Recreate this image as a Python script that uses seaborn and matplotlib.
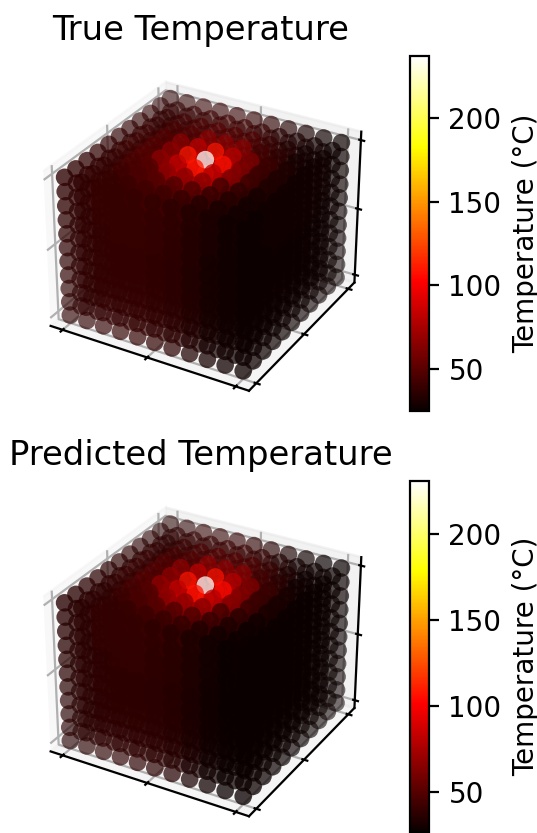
import numpy as np
import pandas as pd
import seaborn as sns
import matplotlib
matplotlib.use("Agg")
import matplotlib.pyplot as plt
from matplotlib.cm import ScalarMappable
from matplotlib.colors import Normalize

W, H, DPI = 537, 833, 200

grid_index = list(range(11))
# background temperature read per x-layer
base_by_x = [36, 37, 38, 38, 38, 37, 35, 32, 29, 27, 26]
# excess temperature read per half-cell of distance from the top-centre heat source
excess_true = [200, 0, 72, 45, 30, 18, 11, 7, 4, 2, 1, 1, 1, 0, 0, 0, 0, 0, 0, 0, 0, 0, 0, 0, 0, 0, 0, 0, 0, 0]
excess_pred = [193, 0, 70, 45, 31, 19, 12, 8, 4, 2, 1, 1, 1, 0, 0, 0, 0, 0, 0, 0, 0, 0, 0, 0, 0, 0, 0, 0, 0, 0]
source_cell = (5, 5, 10)
titles = ["True Temperature", "Predicted Temperature"]
ranges = [(25, 237), (27, 231)]
cbar_ticks = [50, 100, 150, 200]
axis_ticks = [0, 5, 10]


def build(excess):
    rows = []
    for i in grid_index:
        for j in grid_index:
            for k in grid_index:
                r = np.sqrt((i - source_cell[0]) ** 2 + (j - source_cell[1]) ** 2 + (k - source_cell[2]) ** 2)
                rows.append((i, j, k, base_by_x[i] + excess[int(round(r * 2))]))
    return pd.DataFrame(rows, columns=["x", "y", "z", "T"])


hot = sns.color_palette("hot", as_cmap=True)
fig = plt.figure(figsize=(W / DPI, H / DPI), dpi=DPI)


def rect(x0, y0, x1, y1):
    return [x0 / W, 1 - y1 / H, (x1 - x0) / W, (y1 - y0) / H]


boxes = [(22.5, 56, 378.5, 412), (22.5, 481.5, 378.5, 837.5)]
cboxes = [(410, 56, 429, 411), (410, 481, 429, 832)]
for title, excess, rng, box, cbox in zip(titles, [excess_true, excess_pred], ranges, boxes, cboxes):
    df = build(excess)
    ax = fig.add_axes(rect(*box), projection="3d")
    ax.set_box_aspect((4, 4, 3.1))
    norm = Normalize(*rng)
    # fade with distance from the viewer (elev 30, azim -60), opaque in front, pale at the back
    toward_viewer = 0.433 * df["x"] - 0.75 * df["y"] + 0.5 * df["z"]
    depth = (toward_viewer.max() - toward_viewer) / (toward_viewer.max() - toward_viewer.min())
    rgba = hot(norm(df["T"].to_numpy()))
    rgba[:, 3] = 0.92 - 0.52 * depth
    ax.scatter(df["x"], df["y"], df["z"], c=rgba, s=40, linewidths=0, depthshade=False)
    ax.set_zlim(-0.6, 10.6)
    ax.set_xticks(axis_ticks)
    ax.set_yticks(axis_ticks)
    ax.set_zticks(axis_ticks)
    ax.set_xticklabels([])
    ax.set_yticklabels([])
    ax.set_zticklabels([])
    ax.set_title(title, fontsize=12.2, y=1.086)
    cax = fig.add_axes(rect(*cbox))
    cb = fig.colorbar(ScalarMappable(norm=norm, cmap=hot), cax=cax)
    cb.set_ticks(cbar_ticks)
    cb.ax.tick_params(labelsize=10)
    cb.set_label("Temperature (°C)", fontsize=10, labelpad=3.7)

fig.savefig("out.png", dpi=DPI)
